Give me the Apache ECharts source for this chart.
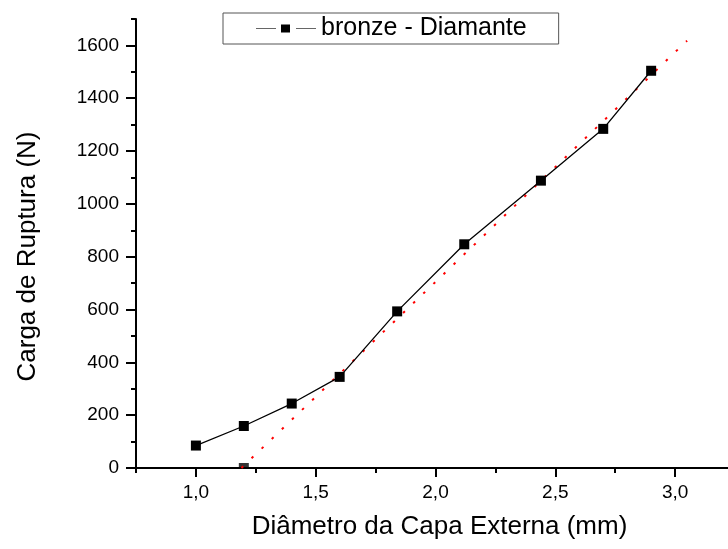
<!DOCTYPE html>
<html>
<head>
<meta charset="utf-8">
<script src="https://cdn.jsdelivr.net/npm/echarts@6/dist/echarts.min.js"></script>
<style>
html,body{margin:0;padding:0;background:#fff;}
#chart{width:728px;height:549px;}
</style>
</head>
<body>
<div id="chart"></div>
<script>
// Data
const seriesName = 'bronze - Diamante';
const diameters = [1.0, 1.2, 1.4, 1.6, 1.84, 2.12, 2.44, 2.70, 2.90];
const loads = [85, 159, 244, 345, 593, 847, 1088, 1284, 1504];
const fitX = [1.19, 3.05];
const fitY = [0, 1618];
const fitStartX = [1.2];
const fitStartY = [0];
const xMajorTicks = [1.0, 1.5, 2.0, 2.5, 3.0];
const xMinorTicks = [0.75, 1.25, 1.75, 2.25, 2.75, 3.25];
const yMajorTicks = [0, 200, 400, 600, 800, 1000, 1200, 1400, 1600];
const yMinorTicks = [100, 300, 500, 700, 900, 1100, 1300, 1500, 1700];

const FONT = 'Liberation Sans, Arial, sans-serif';
const chart = echarts.init(document.getElementById('chart'), null, {renderer: 'canvas'});

const xRange = {min: 0.75, max: 3.25};
const yRange = {min: 0, max: 1700};

// legend glyph: line - square - line
const legendIcon = 'path://M0,3.5L20,3.5L20,4.5L0,4.5Z M25,0L34,0L34,8L25,8Z M40,3.5L60,3.5L60,4.5L40,4.5Z';
const legendIconColor = {
  type: 'linear', x: 0, y: 0, x2: 1, y2: 0,
  colorStops: [
    {offset: 0, color: '#666'}, {offset: 0.40, color: '#666'},
    {offset: 0.40, color: '#000'}, {offset: 0.60, color: '#000'},
    {offset: 0.60, color: '#666'}, {offset: 1, color: '#666'}
  ]
};

chart.setOption({
  animation: false,
  backgroundColor: '#fff',
  grid: {left: 136, width: 599, top: 19, bottom: 81, containLabel: false, outerBoundsMode: 'none'},
  legend: {
    data: [{name: seriesName, icon: legendIcon}],
    left: 223, top: 13,
    padding: [3, 32, 3, 33],
    borderColor: '#555', borderWidth: 1,
    itemWidth: 60, itemHeight: 8,
    itemGap: 5,
    itemStyle: {color: legendIconColor, borderWidth: 0},
    textStyle: {fontFamily: FONT, fontSize: 25, color: '#000'}
  },
  xAxis: [{
    type: 'value', position: 'bottom',
    min: xRange.min, max: xRange.max,
    name: 'Diâmetro da Capa Externa (mm)',
    nameLocation: 'middle', nameGap: 46,
    nameTextStyle: {fontFamily: FONT, fontSize: 26, color: '#000', padding: [0, 0, 0, 8]},
    axisLine: {show: true, onZero: false, lineStyle: {color: '#000', width: 2}},
    axisTick: {show: true, inside: false, length: 9, customValues: xMajorTicks, lineStyle: {color: '#000', width: 2}},
    axisLabel: {show: true, margin: 15, customValues: xMajorTicks, fontFamily: FONT, fontSize: 19, color: '#000',
      formatter: v => v.toFixed(1).replace('.', ',')},
    splitLine: {show: false}
  }, {
    type: 'value', position: 'bottom', offset: 0,
    min: xRange.min, max: xRange.max,
    axisLine: {show: false},
    axisTick: {show: true, inside: false, length: 5, customValues: xMinorTicks, lineStyle: {color: '#000', width: 2}},
    axisLabel: {show: false},
    splitLine: {show: false}
  }],
  yAxis: [{
    type: 'value', position: 'left',
    min: yRange.min, max: yRange.max,
    name: 'Carga de Ruptura (N)',
    nameLocation: 'middle', nameGap: 95,
    nameTextStyle: {fontFamily: FONT, fontSize: 26, color: '#000', padding: [0, 26, 0, 0]},
    axisLine: {show: true, onZero: false, lineStyle: {color: '#000', width: 2}},
    axisTick: {show: true, inside: false, length: 10, customValues: yMajorTicks, lineStyle: {color: '#000', width: 2}},
    axisLabel: {show: true, margin: 17, customValues: yMajorTicks, fontFamily: FONT, fontSize: 19, color: '#000',
      formatter: v => String(v)},
    splitLine: {show: false}
  }, {
    type: 'value', position: 'left', offset: 0,
    min: yRange.min, max: yRange.max,
    axisLine: {show: false},
    axisTick: {show: true, inside: false, length: 5, customValues: yMinorTicks, lineStyle: {color: '#000', width: 2}},
    axisLabel: {show: false},
    splitLine: {show: false}
  }],
  series: [{
    name: 'fit',
    type: 'line',
    xAxisIndex: 0, yAxisIndex: 0,
    data: fitX.map((x, i) => [x, fitY[i]]),
    showSymbol: false, symbol: 'none',
    lineStyle: {color: '#ff0000', width: 2, type: [2.5, 11.5]},
    z: 3, silent: true
  }, {
    name: 'fitStart',
    type: 'scatter',
    xAxisIndex: 0, yAxisIndex: 0,
    data: fitStartX.map((x, i) => [x, fitStartY[i]]),
    symbol: 'rect', symbolSize: [10, 5], symbolOffset: [0, -2.5],
    itemStyle: {color: '#000'},
    z: 2, silent: true
  }, {
    name: seriesName,
    type: 'line',
    xAxisIndex: 0, yAxisIndex: 0,
    data: diameters.map((x, i) => [x, loads[i]]),
    symbol: 'rect', symbolSize: 10, showSymbol: true,
    lineStyle: {color: '#000', width: 1.3},
    itemStyle: {color: '#000'},
    z: 4
  }]
});
</script>
</body>
</html>
